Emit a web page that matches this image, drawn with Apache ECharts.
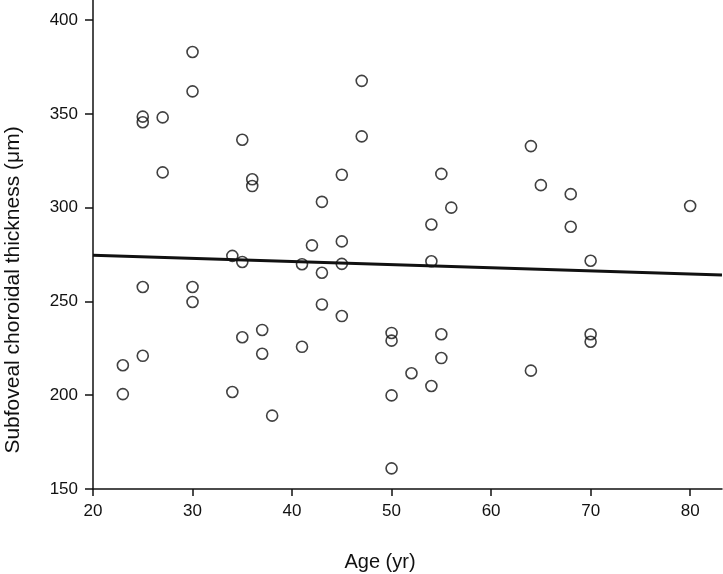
<!DOCTYPE html>
<html>
<head>
<meta charset="utf-8">
<script src="https://cdn.jsdelivr.net/npm/echarts@6/dist/echarts.min.js"></script>
<style>html,body{margin:0;padding:0;background:#fff}#c{width:723px;height:574px}</style>
</head>
<body>
<div id="c"></div>
<script>
const ages = [23, 23, 25, 25, 25, 25, 27, 27, 30, 30, 30, 30, 34, 34, 35, 35, 35, 36, 36, 37, 37, 38, 41, 41, 42, 43, 43, 43, 45, 45, 45, 45, 47, 47, 50, 50, 50, 50, 52, 54, 54, 54, 55, 55, 55, 56, 64, 64, 65, 68, 68, 70, 70, 70, 80];
const thickness = [216, 200.6, 348.5, 345.5, 257.7, 221, 348.1, 318.8, 383, 362, 257.7, 249.7, 274.3, 201.7, 336.2, 271, 230.9, 315.1, 311.5, 234.8, 222.1, 189.1, 269.8, 225.8, 279.9, 303.1, 265.3, 248.4, 317.5, 282, 270, 242.2, 367.6, 338, 233.2, 229.1, 199.9, 161, 211.7, 291, 271.4, 204.9, 318, 232.5, 219.8, 300, 332.8, 213.1, 312, 307.2, 289.8, 271.7, 232.5, 228.5, 300.9];
const fitX = [20, 83.2];
const fitY = [274.6, 264.1];
const xTicks = [20, 30, 40, 50, 60, 70, 80];
const yTicks = [150, 200, 250, 300, 350, 400];
const xTitle = 'Age (yr)';
const yTitle = 'Subfoveal choroidal thickness (\u03bcm)';

const font = "'Liberation Sans', Arial, sans-serif";
const points = ages.map((a, i) => [a, thickness[i]]);
const fitLine = fitX.map((x, i) => [x, fitY[i]]);

const chart = echarts.init(document.getElementById('c'), null, {renderer: 'canvas'});
chart.setOption({
  animation: false,
  backgroundColor: '#fff',
  grid: {left: 93, right: 1, top: 0, bottom: 85, containLabel: false},
  graphic: [
    {type: 'text', x: 380, y: 562,
     style: {text: xTitle, fontFamily: font, fontSize: 20, fill: '#111', align: 'center', verticalAlign: 'middle'}},
    {type: 'text', x: 13, y: 290, rotation: Math.PI / 2,
     style: {text: yTitle, fontFamily: font, fontSize: 21, fill: '#111', align: 'center', verticalAlign: 'middle'}}
  ],
  xAxis: {
    type: 'value', min: 20, max: 83.2, interval: 10,
    axisLine: {show: true, onZero: false, lineStyle: {color: '#111', width: 1.5}},
    axisTick: {show: true, length: 7, lineStyle: {color: '#111', width: 1.5}, customValues: xTicks},
    axisLabel: {fontFamily: font, fontSize: 17, color: '#111', margin: 14, customValues: xTicks},
    splitLine: {show: false}
  },
  yAxis: {
    type: 'value', min: 150, max: 410.7, interval: 50,
    axisLine: {show: true, onZero: false, lineStyle: {color: '#111', width: 1.5}},
    axisTick: {show: true, length: 8, lineStyle: {color: '#111', width: 1.5}, customValues: yTicks},
    axisLabel: {fontFamily: font, fontSize: 17, color: '#111', margin: 15, customValues: yTicks},
    splitLine: {show: false}
  },
  series: [
    {
      type: 'scatter', data: points, symbol: 'circle', symbolSize: 11,
      itemStyle: {color: 'rgba(255,255,255,0)', borderColor: '#111', borderWidth: 1.6}
    },
    {
      type: 'line', data: fitLine, symbol: 'none',
      lineStyle: {color: '#111', width: 3}
    }
  ]
});
</script>
</body>
</html>
